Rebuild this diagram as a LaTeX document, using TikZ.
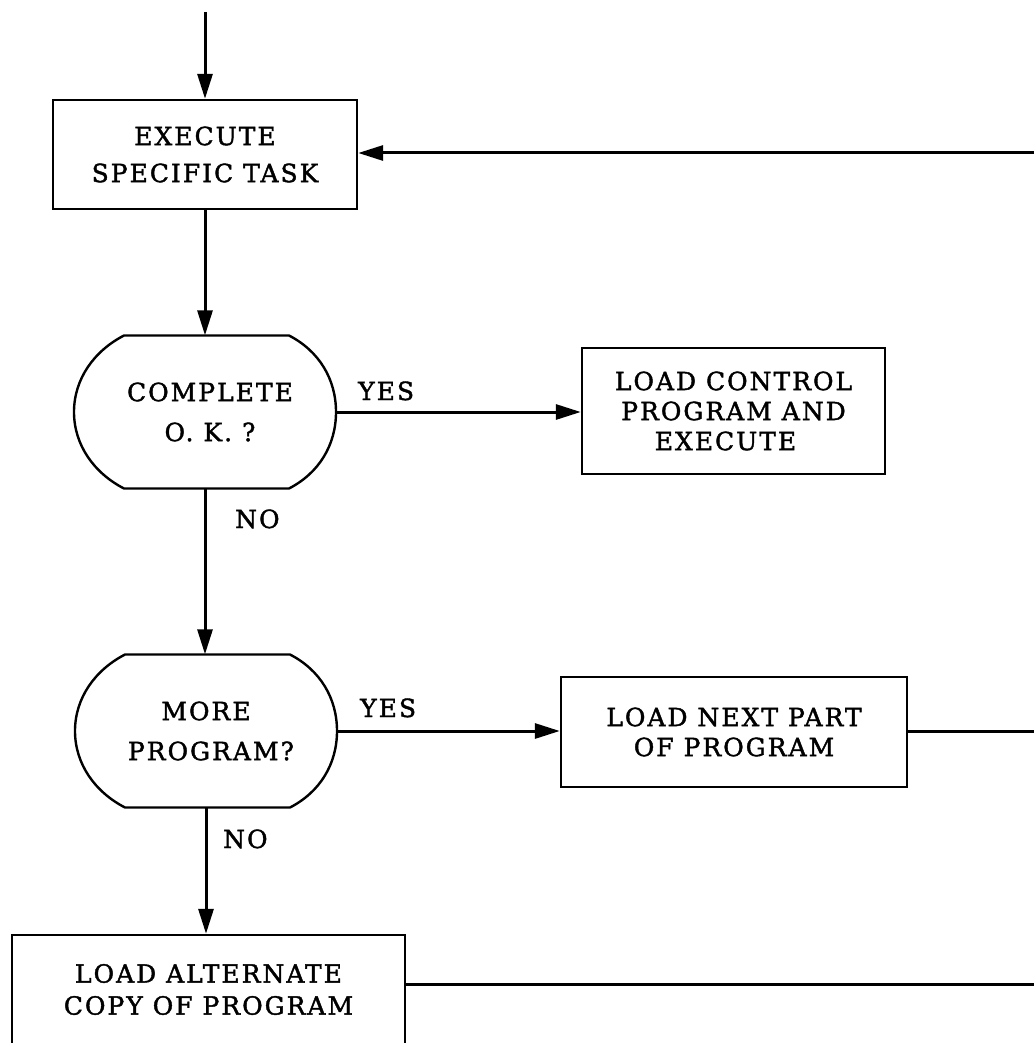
\documentclass[tikz,border=0pt]{standalone}
\usepackage{fontspec}
\setmainfont{DejaVu Serif}[LetterSpace=8,FakeBold=1.6]
\usetikzlibrary{arrows.meta}
\begin{document}
\begin{tikzpicture}[x=1pt,y=-1pt,
  flow/.style={line width=3pt},
  arr/.style={flow,-{Triangle[length=25pt,width=15pt]}},
  boxnode/.style={draw,line width=2.4pt,rectangle,inner sep=0pt,align=center},
  decnode/.style={rectangle,inner sep=0pt,align=center,minimum width=262pt,minimum height=153pt,font=\fontsize{25}{40}\selectfont},
  decline/.style={line width=2.4pt},
  lbl/.style={inner sep=0pt,font=\fontsize{25}{25}\selectfont}]
\useasboundingbox[fill=white] (0,0) rectangle (1033,1043);

% nodes
\node[boxnode,minimum width=304pt,minimum height=109pt,font=\fontsize{25}{37}\selectfont] (exec) at (205,154.5) {EXECUTE\\SPECIFIC TASK};
\node[decnode] (d1) at (205,412) {\hspace*{10pt}COMPLETE\\\hspace*{10pt}O. K. ?};
\node[decnode] (d2) at (206,731) {MORE\\\hspace*{10pt}PROGRAM?};
\node[boxnode,minimum width=303pt,minimum height=126pt,font=\fontsize{25}{30}\selectfont] (ctrl) at (733.5,411) {LOAD CONTROL\\PROGRAM AND\\EXECUTE\hspace*{16pt}};
\node[boxnode,minimum width=346pt,minimum height=110pt,font=\fontsize{25}{30}\selectfont] (next) at (734,732) {LOAD NEXT PART\\OF PROGRAM};
\node[boxnode,minimum width=393pt,minimum height=109pt,font=\fontsize{25}{32}\selectfont] (alt) at (208.5,989.5) {LOAD ALTERNATE\\COPY OF PROGRAM};

% decision outlines
\foreach \d in {d1,d2}{
  \begin{scope}[shift={(\d)}]
    \draw[decline] (-81,-76.5) -- (84,-76.5)
      .. controls (114,-61) and (131,-33) .. (131,0)
      .. controls (131,33) and (114,61) .. (84,76.5)
      -- (-81,76.5)
      .. controls (-111,61) and (-131,33) .. (-131,0)
      .. controls (-131,-33) and (-111,-61) .. (-81,-76.5) -- cycle;
  \end{scope}
}

% free ends
\coordinate (start) at (205,12);
\coordinate (r1) at (1040,153);
\coordinate (r2) at (1040,731);
\coordinate (r3) at (1040,984);

% connectors
\draw[arr] (start) -- (exec.north);
\draw[arr] (exec.south) -- (d1.north);
\draw[arr] (d1.south) -- (d1.south |- d2.north);
\draw[arr] (d2.south) -- (d2.south |- alt.north);
\draw[arr] (d1.east) -- (d1.east -| ctrl.west);
\draw[arr] (d2.east) -- (d2.east -| next.west);
\draw[arr] (r1) -- (r1 -| exec.east);
\draw[flow] (next.east |- r2) -- (r2);
\draw[flow] (alt.east |- r3) -- (r3);

% labels
\node[lbl,anchor=base west] (yes1) at (358,400) {YES};
\node[lbl,anchor=base west] (no1) at (235,528) {NO};
\node[lbl,anchor=base west] (yes2) at (360,717) {YES};
\node[lbl,anchor=base west] (no2) at (223,848) {NO};
\end{tikzpicture}
\end{document}
